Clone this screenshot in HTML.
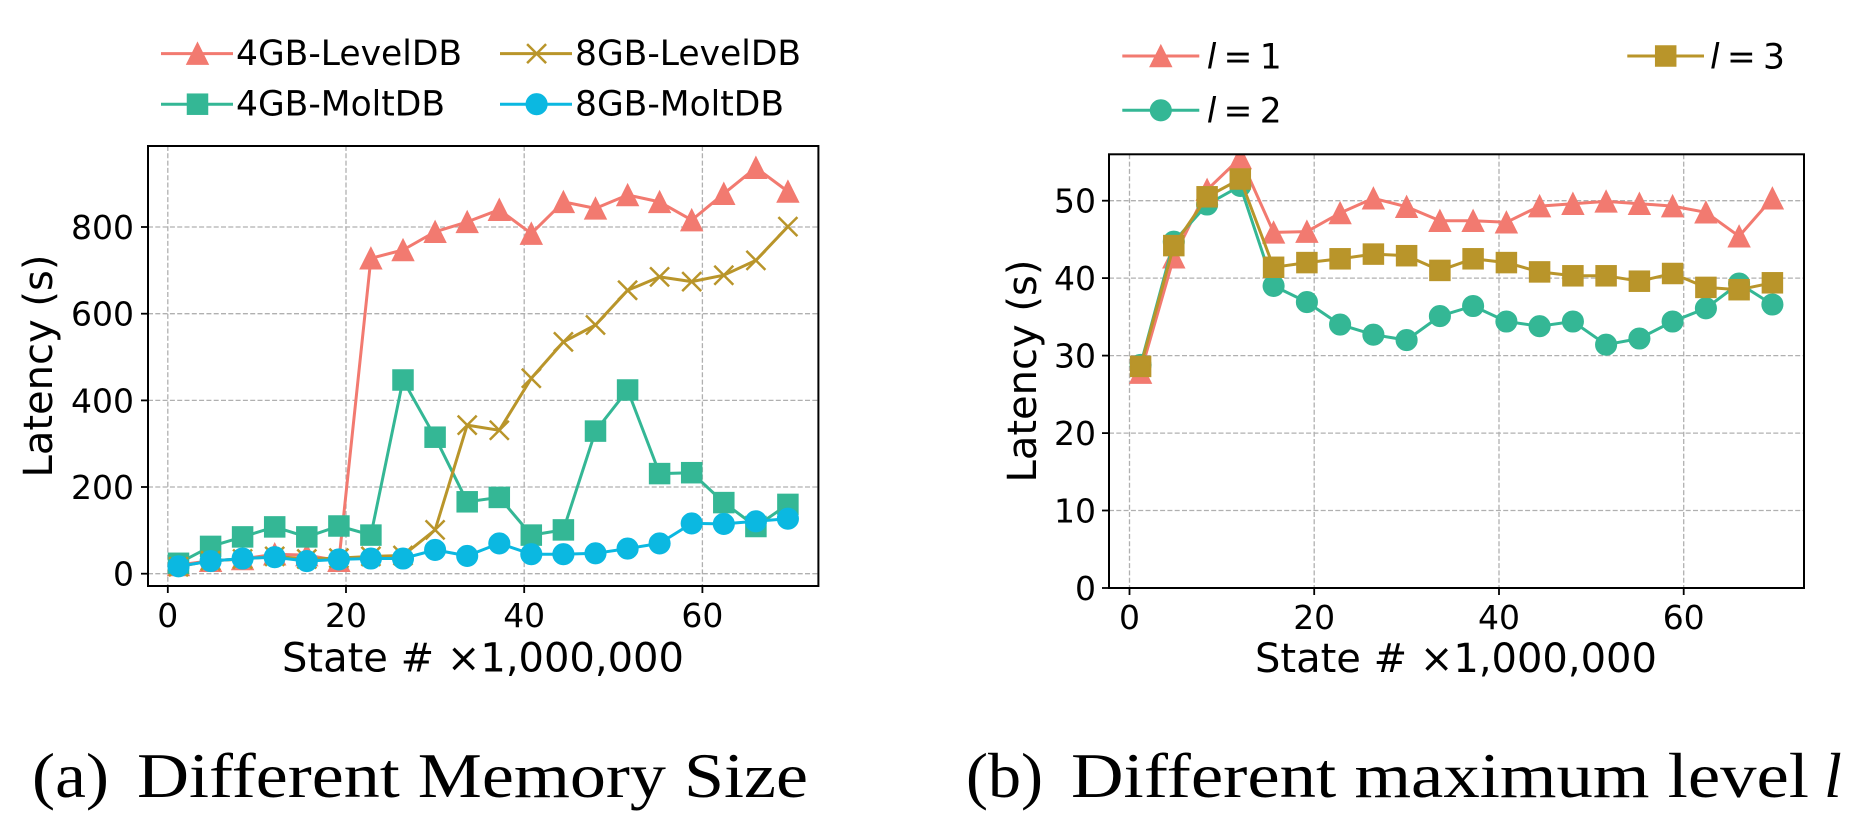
<!DOCTYPE html>
<html>
<head>
<meta charset="utf-8">
<style>
  html,body{margin:0;padding:0;background:#fff;}
  svg{display:block;}
  .tick{font-family:"DejaVu Sans","Liberation Sans",sans-serif;font-size:33px;fill:#000;}
  .lab{font-family:"DejaVu Sans","Liberation Sans",sans-serif;font-size:40px;fill:#000;}
  .leg{font-family:"DejaVu Sans","Liberation Sans",sans-serif;font-size:34.5px;fill:#000;}
  .cap{font-family:"Liberation Serif","DejaVu Serif",serif;font-size:64px;fill:#000;}
  .grid{stroke:#b0b0b0;stroke-width:1.3;stroke-dasharray:5 2.3;fill:none;}
</style>
</head>
<body>
<svg width="1850" height="817" viewBox="0 0 1850 817" xmlns="http://www.w3.org/2000/svg">
  <defs>
    <clipPath id="clipL"><rect x="148" y="146" width="670.4" height="440"/></clipPath>
    <clipPath id="clipR"><rect x="1109" y="154.3" width="695" height="433.7"/></clipPath>

    <marker id="mTriS" markerUnits="userSpaceOnUse" viewBox="-15 -15 30 30" refX="0" refY="0" markerWidth="30" markerHeight="30" overflow="visible">
      <path d="M0,-10.5 L10.5,10.5 L-10.5,10.5 Z" fill="#F27A70" stroke="#F27A70" stroke-width="1.5"/>
    </marker>
    <marker id="mSqT" markerUnits="userSpaceOnUse" viewBox="-15 -15 30 30" refX="0" refY="0" markerWidth="30" markerHeight="30" overflow="visible">
      <rect x="-10" y="-10" width="20" height="20" fill="#34B795" stroke="#34B795" stroke-width="1.5"/>
    </marker>
    <marker id="mXG" markerUnits="userSpaceOnUse" viewBox="-15 -15 30 30" refX="0" refY="0" markerWidth="30" markerHeight="30" overflow="visible">
      <path d="M-9.5,-9.5 L9.5,9.5 M-9.5,9.5 L9.5,-9.5" fill="none" stroke="#B9952A" stroke-width="2.5"/>
    </marker>
    <marker id="mCiC" markerUnits="userSpaceOnUse" viewBox="-15 -15 30 30" refX="0" refY="0" markerWidth="30" markerHeight="30" overflow="visible">
      <circle r="10.3" fill="#0BB8E1" stroke="#0BB8E1" stroke-width="1.5"/>
    </marker>
    <marker id="mCiT" markerUnits="userSpaceOnUse" viewBox="-15 -15 30 30" refX="0" refY="0" markerWidth="30" markerHeight="30" overflow="visible">
      <circle r="10.3" fill="#34B795" stroke="#34B795" stroke-width="1.5"/>
    </marker>
    <marker id="mSqG" markerUnits="userSpaceOnUse" viewBox="-15 -15 30 30" refX="0" refY="0" markerWidth="30" markerHeight="30" overflow="visible">
      <rect x="-10" y="-10" width="20" height="20" fill="#B9952A" stroke="#B9952A" stroke-width="1.5"/>
    </marker>
  </defs>

  <rect width="1850" height="817" fill="#fff"/>

  <!-- ================= LEFT PANEL ================= -->
  <!-- grid -->
  <g class="grid">
    <line x1="167.8" y1="146" x2="167.8" y2="586"/>
    <line x1="346.0" y1="146" x2="346.0" y2="586"/>
    <line x1="524.2" y1="146" x2="524.2" y2="586"/>
    <line x1="702.4" y1="146" x2="702.4" y2="586"/>
    <line x1="148" y1="573.7" x2="818.4" y2="573.7"/>
    <line x1="148" y1="487.0" x2="818.4" y2="487.0"/>
    <line x1="148" y1="400.4" x2="818.4" y2="400.4"/>
    <line x1="148" y1="313.7" x2="818.4" y2="313.7"/>
    <line x1="148" y1="227.0" x2="818.4" y2="227.0"/>
  </g>

  <g clip-path="url(#clipL)" fill="none" stroke-width="3" stroke-linejoin="round">
    <polyline stroke="#F27A70" marker-start="url(#mTriS)" marker-mid="url(#mTriS)" marker-end="url(#mTriS)"
      points="178.5,565.0 210.6,560.7 242.6,559.0 274.7,554.2 306.8,555.1 338.9,560.7 370.9,258.3 403.0,250.0 435.1,231.8 467.2,221.9 499.3,209.7 531.3,233.6 563.4,201.9 595.5,208.4 627.6,195.0 659.6,201.9 691.7,220.1 723.8,193.7 755.9,167.7 787.9,191.5"/>
    <polyline stroke="#34B795" marker-start="url(#mSqT)" marker-mid="url(#mSqT)" marker-end="url(#mSqT)"
      points="178.5,563.3 210.6,546.4 242.6,536.9 274.7,526.9 306.8,536.9 338.9,526.0 370.9,535.1 403.0,380.0 435.1,437.2 467.2,501.8 499.3,497.4 531.3,535.1 563.4,529.9 595.5,431.1 627.6,390.0 659.6,473.6 691.7,472.7 723.8,502.6 755.9,526.5 787.9,504.4"/>
    <polyline stroke="#B9952A" marker-start="url(#mXG)" marker-mid="url(#mXG)" marker-end="url(#mXG)"
      points="178.5,566.8 210.6,560.7 242.6,559.0 274.7,556.4 306.8,559.0 338.9,558.1 370.9,556.4 403.0,555.5 435.1,529.9 467.2,425.1 499.3,430.3 531.3,378.3 563.4,341.9 595.5,325.0 627.6,290.3 659.6,276.9 691.7,281.6 723.8,275.2 755.9,260.4 787.9,226.6"/>
    <polyline stroke="#0BB8E1" marker-start="url(#mCiC)" marker-mid="url(#mCiC)" marker-end="url(#mCiC)"
      points="178.5,566.3 210.6,561.1 242.6,558.5 274.7,557.2 306.8,561.1 338.9,559.4 370.9,558.5 403.0,558.5 435.1,549.9 467.2,555.9 499.3,543.4 531.3,554.2 563.4,554.2 595.5,553.3 627.6,548.6 659.6,543.4 691.7,523.4 723.8,523.9 755.9,521.3 787.9,518.7"/>
  </g>

  <!-- frame & ticks -->
  <rect x="148" y="146" width="670.4" height="440" fill="none" stroke="#000" stroke-width="2"/>
  <g stroke="#000" stroke-width="1.8">
    <line x1="167.8" y1="586" x2="167.8" y2="593"/>
    <line x1="346.0" y1="586" x2="346.0" y2="593"/>
    <line x1="524.2" y1="586" x2="524.2" y2="593"/>
    <line x1="702.4" y1="586" x2="702.4" y2="593"/>
    <line x1="141" y1="573.7" x2="148" y2="573.7"/>
    <line x1="141" y1="487.0" x2="148" y2="487.0"/>
    <line x1="141" y1="400.4" x2="148" y2="400.4"/>
    <line x1="141" y1="313.7" x2="148" y2="313.7"/>
    <line x1="141" y1="227.0" x2="148" y2="227.0"/>
  </g>
  <g class="tick" text-anchor="middle">
    <text x="167.8" y="627">0</text>
    <text x="346.0" y="627">20</text>
    <text x="524.2" y="627">40</text>
    <text x="702.4" y="627">60</text>
  </g>
  <g class="tick" text-anchor="end">
    <text x="134" y="585.7">0</text>
    <text x="134" y="499.0">200</text>
    <text x="134" y="412.4">400</text>
    <text x="134" y="325.7">600</text>
    <text x="134" y="239.0">800</text>
  </g>
  <text class="lab" x="483" y="671.5" text-anchor="middle">State # ×1,000,000</text>
  <text class="lab" transform="translate(52,366) rotate(-90)" text-anchor="middle">Latency (s)</text>

  <!-- legend left -->
  <g stroke-width="3">
    <line x1="161" y1="53.6" x2="233" y2="53.6" stroke="#F27A70"/>
    <path d="M197.5,43.1 L208,64.1 L187,64.1 Z" fill="#F27A70" stroke="#F27A70" stroke-width="1.5"/>
    <line x1="161" y1="104.2" x2="233" y2="104.2" stroke="#34B795"/>
    <rect x="187.5" y="94.2" width="20" height="20" fill="#34B795" stroke="#34B795" stroke-width="1.5"/>
    <line x1="500" y1="53.6" x2="572" y2="53.6" stroke="#B9952A"/>
    <path d="M527.1,44.1 L546.1,63.1 M527.1,63.1 L546.1,44.1" stroke="#B9952A" stroke-width="2.5" fill="none"/>
    <line x1="500" y1="104.2" x2="572" y2="104.2" stroke="#0BB8E1"/>
    <circle cx="536.6" cy="104.2" r="10.3" fill="#0BB8E1" stroke="#0BB8E1" stroke-width="1.5"/>
  </g>
  <g class="leg">
    <text x="236" y="65.2">4GB-LevelDB</text>
    <text x="236" y="115.7">4GB-MoltDB</text>
    <text x="575" y="65.2">8GB-LevelDB</text>
    <text x="575" y="115.7">8GB-MoltDB</text>
  </g>

  <!-- ================= RIGHT PANEL ================= -->
  <g class="grid">
    <line x1="1129.5" y1="154.3" x2="1129.5" y2="588"/>
    <line x1="1314.2" y1="154.3" x2="1314.2" y2="588"/>
    <line x1="1499.0" y1="154.3" x2="1499.0" y2="588"/>
    <line x1="1683.7" y1="154.3" x2="1683.7" y2="588"/>
    <line x1="1109" y1="510.5" x2="1804" y2="510.5"/>
    <line x1="1109" y1="433.1" x2="1804" y2="433.1"/>
    <line x1="1109" y1="355.6" x2="1804" y2="355.6"/>
    <line x1="1109" y1="278.1" x2="1804" y2="278.1"/>
    <line x1="1109" y1="200.7" x2="1804" y2="200.7"/>
  </g>

  <g clip-path="url(#clipR)" fill="none" stroke-width="3" stroke-linejoin="round">
    <polyline stroke="#F27A70" marker-start="url(#mTriS)" marker-mid="url(#mTriS)" marker-end="url(#mTriS)"
      points="1140.6,372.6 1173.8,257.2 1207.1,189.8 1240.3,158.0 1273.6,232.4 1306.9,231.6 1340.1,213.0 1373.4,198.3 1406.6,206.8 1439.9,220.8 1473.1,220.8 1506.4,222.3 1539.6,206.1 1572.9,203.7 1606.1,201.4 1639.4,203.7 1672.6,206.1 1705.9,212.3 1739.1,236.3 1772.4,198.3"/>
    <polyline stroke="#34B795" marker-start="url(#mCiT)" marker-mid="url(#mCiT)" marker-end="url(#mCiT)"
      points="1140.6,364.9 1173.8,241.7 1207.1,204.5 1240.3,185.9 1273.6,285.9 1306.9,302.1 1340.1,324.6 1373.4,334.7 1406.6,340.1 1439.9,316.1 1473.1,306.0 1506.4,321.5 1539.6,326.2 1572.9,321.5 1606.1,344.7 1639.4,338.5 1672.6,321.5 1705.9,308.3 1739.1,283.5 1772.4,304.5"/>
    <polyline stroke="#B9952A" marker-start="url(#mSqG)" marker-mid="url(#mSqG)" marker-end="url(#mSqG)"
      points="1140.6,366.4 1173.8,245.6 1207.1,196.8 1240.3,179.0 1273.6,267.3 1306.9,262.6 1340.1,258.8 1373.4,254.1 1406.6,255.7 1439.9,270.4 1473.1,258.8 1506.4,262.6 1539.6,271.9 1572.9,275.8 1606.1,275.8 1639.4,281.2 1672.6,273.5 1705.9,287.4 1739.1,289.7 1772.4,282.8"/>
  </g>

  <rect x="1109" y="154.3" width="695" height="433.7" fill="none" stroke="#000" stroke-width="2"/>
  <g stroke="#000" stroke-width="1.8">
    <line x1="1129.5" y1="588" x2="1129.5" y2="595"/>
    <line x1="1314.2" y1="588" x2="1314.2" y2="595"/>
    <line x1="1499.0" y1="588" x2="1499.0" y2="595"/>
    <line x1="1683.7" y1="588" x2="1683.7" y2="595"/>
    <line x1="1102" y1="588" x2="1109" y2="588"/>
    <line x1="1102" y1="510.5" x2="1109" y2="510.5"/>
    <line x1="1102" y1="433.1" x2="1109" y2="433.1"/>
    <line x1="1102" y1="355.6" x2="1109" y2="355.6"/>
    <line x1="1102" y1="278.1" x2="1109" y2="278.1"/>
    <line x1="1102" y1="200.7" x2="1109" y2="200.7"/>
  </g>
  <g class="tick" text-anchor="middle">
    <text x="1129.5" y="629">0</text>
    <text x="1314.2" y="629">20</text>
    <text x="1499.0" y="629">40</text>
    <text x="1683.7" y="629">60</text>
  </g>
  <g class="tick" text-anchor="end">
    <text x="1096" y="600">0</text>
    <text x="1096" y="522.5">10</text>
    <text x="1096" y="445.1">20</text>
    <text x="1096" y="367.6">30</text>
    <text x="1096" y="290.1">40</text>
    <text x="1096" y="212.7">50</text>
  </g>
  <text class="lab" x="1456" y="672" text-anchor="middle">State # ×1,000,000</text>
  <text class="lab" transform="translate(1036,371) rotate(-90)" text-anchor="middle">Latency (s)</text>

  <!-- legend right -->
  <g stroke-width="3">
    <line x1="1122.3" y1="56" x2="1199.3" y2="56" stroke="#F27A70"/>
    <path d="M1160.8,45.5 L1171.3,66.5 L1150.3,66.5 Z" fill="#F27A70" stroke="#F27A70" stroke-width="1.5"/>
    <line x1="1122.3" y1="110.3" x2="1199.3" y2="110.3" stroke="#34B795"/>
    <circle cx="1160.8" cy="110.3" r="10.3" fill="#34B795" stroke="#34B795" stroke-width="1.5"/>
    <line x1="1627.3" y1="56" x2="1704" y2="56" stroke="#B9952A"/>
    <rect x="1655.7" y="46" width="20" height="20" fill="#B9952A" stroke="#B9952A" stroke-width="1.5"/>
  </g>
  <g class="leg">
    <text x="1206.7" y="68.3" textLength="75" lengthAdjust="spacing"><tspan font-style="italic">l</tspan> = 1</text>
    <text x="1206.7" y="122.6" textLength="75" lengthAdjust="spacing"><tspan font-style="italic">l</tspan> = 2</text>
    <text x="1710" y="68.3" textLength="75" lengthAdjust="spacing"><tspan font-style="italic">l</tspan> = 3</text>
  </g>

  <!-- captions -->
  <g class="cap">
    <text x="32" y="797" textLength="77" lengthAdjust="spacingAndGlyphs">(a)</text>
    <text x="137" y="797" textLength="671" lengthAdjust="spacingAndGlyphs">Different Memory Size</text>
    <text x="966" y="797" textLength="77" lengthAdjust="spacingAndGlyphs">(b)</text>
    <text x="1071" y="797" textLength="738" lengthAdjust="spacingAndGlyphs">Different maximum level</text>
    <text x="1824" y="797" font-style="italic">l</text>
  </g>
</svg>
</body>
</html>
